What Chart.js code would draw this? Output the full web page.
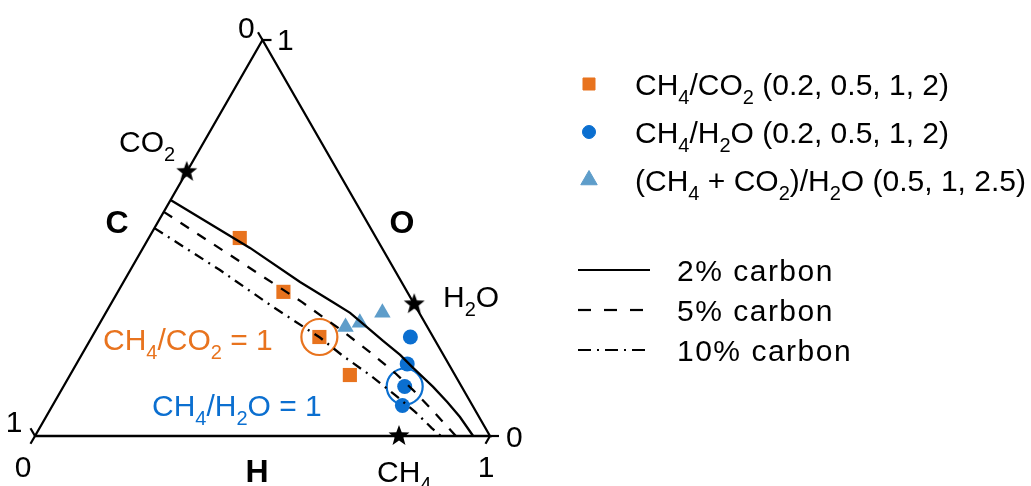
<!DOCTYPE html>
<html>
<head>
<meta charset="utf-8">
<script src="https://cdn.jsdelivr.net/npm/chart.js"></script>
<style>
  html, body { margin: 0; padding: 0; background: #fff; }
  canvas { display: block; }
</style>
</head>
<body>
<canvas id="ternary" width="1031" height="486"></canvas>
<script>
// ternary data, stored as H and O fractions (C = 1 - H - O)
const frameH = [0, 1, 0, 0];
const frameO = [0, 0, 1, 0];

const ch4co2H = [0.2, 0.364, 0.5, 0.615];
const ch4co2O = [0.5, 0.364, 0.25, 0.154];

const ch4h2oH = [0.7, 0.727, 0.75, 0.769];
const ch4h2oO = [0.25, 0.182, 0.125, 0.077];

const mixH = [0.545, 0.571, 0.608];
const mixO = [0.275, 0.286, 0.311];

const speciesH = [0, 0.667, 0.8];     // CO2, H2O, CH4
const speciesO = [0.667, 0.333, 0];

const carbon2H = [0, 0.235, 0.388, 0.486, 0.537, 0.592, 0.645, 0.700, 0.745, 0.813, 0.863, 0.910, 0.963];
const carbon2O = [0.596, 0.475, 0.389, 0.338, 0.311, 0.275, 0.240, 0.205, 0.172, 0.124, 0.086, 0.048, 0];

const carbon5H = [0, 0.200, 0.418, 0.535, 0.630, 0.712, 0.773, 0.833, 0.886, 0.925];
const carbon5O = [0.566, 0.457, 0.338, 0.270, 0.212, 0.159, 0.116, 0.071, 0.030, 0];

const carbon10H = [0, 0.197, 0.360, 0.503, 0.576, 0.659, 0.739, 0.805, 0.862, 0.892];
const carbon10O = [0.525, 0.419, 0.326, 0.248, 0.202, 0.154, 0.104, 0.061, 0.020, 0];

// highlighted mixtures (CH4/CO2 = 1 and CH4/H2O = 1)
const ringH = [0.5, 0.75];
const ringO = [0.25, 0.125];

const ORANGE = "#E8731E";
const BLUE = "#0B6FD0";
const LIGHTBLUE = "#5E9DCA";

function toXY(h, o) {
  return h.map((v, i) => ({ x: v + o[i] / 2, y: o[i] }));
}

function makeStar(r) {
  const c = document.createElement("canvas");
  c.width = c.height = r * 2 + 2;
  const g = c.getContext("2d");
  g.beginPath();
  for (let i = 0; i < 10; i++) {
    const rad = i % 2 === 0 ? r : r * 0.42;
    const a = -Math.PI / 2 + i * Math.PI / 5;
    g.lineTo(r + 1 + rad * Math.cos(a), r + 1 + rad * Math.sin(a));
  }
  g.closePath();
  g.fillStyle = "#000";
  g.fill();
  return c;
}
const starImg = makeStar(11);

/* ===== RICH TEXT (subscripts via "_") ===== */
function drawRich(ctx, str, x, y, opt) {
  const size = opt.size || 30;
  const sub = Math.round(size * 0.66);
  const font = (opt.bold ? "bold " : "") + size + "px 'Liberation Sans', Arial, sans-serif";
  const subFont = sub + "px 'Liberation Sans', Arial, sans-serif";
  const parts = [];
  for (let i = 0; i < str.length; i++) {
    if (str[i] === "_") { parts.push([str[i + 1], true]); i++; }
    else if (parts.length && !parts[parts.length - 1][1]) parts[parts.length - 1][0] += str[i];
    else parts.push([str[i], false]);
  }
  let w = 0;
  parts.forEach(p => { ctx.font = p[1] ? subFont : font; w += ctx.measureText(p[0]).width; });
  let cx = x;
  if (opt.align === "center") cx = x - w / 2;
  ctx.fillStyle = opt.color || "#000";
  ctx.textBaseline = "alphabetic";
  ctx.textAlign = "left";
  parts.forEach(p => {
    ctx.font = p[1] ? subFont : font;
    ctx.fillText(p[0], cx, p[1] ? y + size * 0.3 : y);
    cx += ctx.measureText(p[0]).width;
  });
}

const labels = [
  { t: "0", x: 238, y: 38 },
  { t: "1", x: 277, y: 50 },
  { t: "CO_2", x: 119, y: 152 },
  { t: "C", x: 117, y: 233, bold: true, size: 32, align: "center" },
  { t: "O", x: 402, y: 233, bold: true, size: 32, align: "center" },
  { t: "H", x: 257, y: 482, bold: true, size: 32, align: "center" },
  { t: "H_2O", x: 443, y: 307 },
  { t: "0", x: 506, y: 447 },
  { t: "1", x: 486, y: 477, align: "center" },
  { t: "0", x: 23, y: 477, align: "center" },
  { t: "1", x: 14, y: 432, align: "center" },
  { t: "CH_4", x: 377, y: 482 },
  { t: "CH_4/CO_2 = 1", x: 103, y: 350, color: ORANGE },
  { t: "CH_4/H_2O = 1", x: 152, y: 416, color: BLUE }
];

const legendMarkers = [
  { style: "rect", color: ORANGE, r: 8.5, t: "CH_4/CO_2 (0.2, 0.5, 1, 2)" },
  { style: "circle", color: BLUE, r: 6.5, t: "CH_4/H_2O (0.2, 0.5, 1, 2)" },
  { style: "triangle", color: LIGHTBLUE, r: 9.5, t: "(CH_4 + CO_2)/H_2O (0.5, 1, 2.5)" }
];
const legendLines = [
  { dash: [], t: "2% carbon" },
  { dash: [13, 13], t: "5% carbon" },
  { dash: [13, 6, 2, 6], t: "10% carbon" }
];

const annotate = {
  id: "annotate",
  afterDatasetsDraw(chart) {
    const ctx = chart.ctx;
    const sx = chart.scales.x, sy = chart.scales.y;
    ctx.save();

    // vertex ticks (C axis up-left, O axis right, H axis down-left)
    const L = 9;
    const tick = (h, o, dx, dy) => {
      const px = sx.getPixelForValue(h + o / 2), py = sy.getPixelForValue(o);
      ctx.beginPath();
      ctx.moveTo(px, py);
      ctx.lineTo(px + dx * L, py + dy * L);
      ctx.stroke();
    };
    ctx.strokeStyle = "#000";
    ctx.lineWidth = 2.2;
    ctx.setLineDash([]);
    tick(0, 1, -0.5, -0.866); tick(0, 0, -0.5, -0.866);
    tick(0, 1, 1, 0); tick(1, 0, 1, 0);
    tick(0, 0, -0.5, 0.866); tick(1, 0, -0.5, 0.866);

    labels.forEach(l => drawRich(ctx, l.t, l.x, l.y, l));

    // legend
    const drawPoint = Chart.helpers && Chart.helpers.drawPoint;
    legendMarkers.forEach((m, i) => {
      const y = 84 + i * 48;
      ctx.fillStyle = m.color;
      ctx.strokeStyle = m.color;
      ctx.lineWidth = 1;
      if (drawPoint) drawPoint(ctx, { pointStyle: m.style, radius: m.r, rotation: 0, borderWidth: 1 }, 589, y);
      drawRich(ctx, m.t, 635, y + 11, {});
    });
    legendLines.forEach((l, i) => {
      const y = 270 + i * 40;
      ctx.strokeStyle = "#000";
      ctx.lineWidth = 2.2;
      ctx.setLineDash(l.dash);
      ctx.beginPath();
      ctx.moveTo(578, y);
      ctx.lineTo(650, y);
      ctx.stroke();
      ctx.setLineDash([]);
      ctx.letterSpacing = "1.5px";
      drawRich(ctx, l.t, 677, y + 11, {});
      ctx.letterSpacing = "0px";
    });
    ctx.restore();
  }
};

const lineSet = (label, h, o, dash, order) => ({
  label, data: toXY(h, o), showLine: true, pointRadius: 0,
  borderColor: "#000", borderWidth: 2.3, borderDash: dash, fill: false, order
});

new Chart(document.getElementById("ternary"), {
  type: "scatter",
  data: {
    datasets: [
      lineSet("frame", frameH, frameO, [], 1),
      lineSet("2% carbon", carbon2H, carbon2O, [], 2),
      lineSet("5% carbon", carbon5H, carbon5O, [10, 10], 2),
      lineSet("10% carbon", carbon10H, carbon10O, [10, 6, 2, 6], 2),
      {
        label: "species", data: toXY(speciesH, speciesO),
        pointStyle: starImg, pointRadius: 11, order: 0
      },
      {
        label: "rings", data: toXY(ringH, ringO), pointStyle: "circle", pointRadius: 18,
        backgroundColor: "rgba(0,0,0,0)", borderColor: [ORANGE, BLUE], borderWidth: 2.2, order: 3
      },
      {
        label: "CH4/CO2", data: toXY(ch4co2H, ch4co2O), pointStyle: "rect", pointRadius: 10,
        backgroundColor: ORANGE, borderColor: ORANGE, borderWidth: 0, order: 4
      },
      {
        label: "CH4/H2O", data: toXY(ch4h2oH, ch4h2oO), pointStyle: "circle", pointRadius: 7.5,
        backgroundColor: BLUE, borderColor: BLUE, borderWidth: 0, order: 4
      },
      {
        label: "(CH4+CO2)/H2O", data: toXY(mixH, mixO), pointStyle: "triangle", pointRadius: 9.5,
        backgroundColor: LIGHTBLUE, borderColor: LIGHTBLUE, borderWidth: 0, order: 4
      }
    ]
  },
  options: {
    responsive: false,
    animation: false,
    devicePixelRatio: 1,
    layout: { padding: 0, autoPadding: false },
    plugins: { legend: { display: false }, tooltip: { enabled: false } },
    scales: {
      x: { type: "linear", display: false, min: -35 / 455, max: (1031 - 35) / 455 },
      y: { type: "linear", display: false, min: -50 / 396, max: 436 / 396 }
    }
  },
  plugins: [annotate]
});
</script>
</body>
</html>
